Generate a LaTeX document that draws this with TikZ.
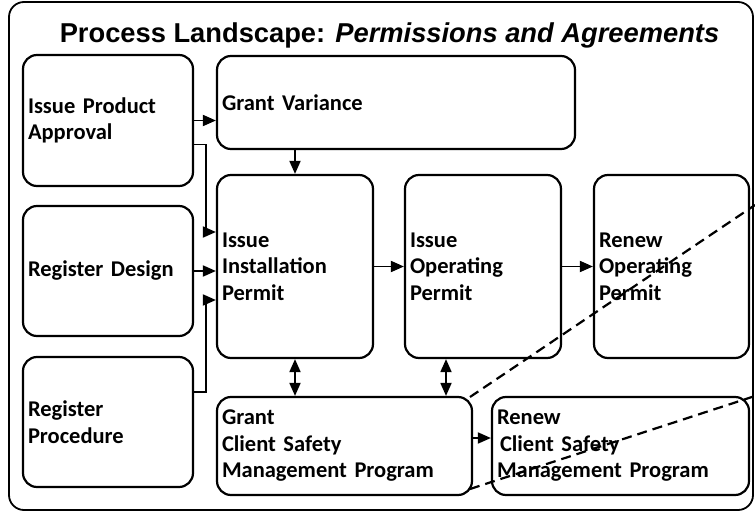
\documentclass[tikz,border=0pt]{standalone}
\usepackage{fontspec}
\setmainfont{Carlito}[WordSpace=0.8]
\newfontfamily\titlefont{Liberation Sans}
\usetikzlibrary{arrows.meta}
\definecolor{edgc}{HTML}{000000}

\begin{document}
\begin{tikzpicture}[
  x=1pt, y=-1pt,
  box/.style={draw=edgc, line width=2.2pt, rounded corners=14pt, align=left,
              inner xsep=5pt, inner ysep=0pt, font=\fontsize{22.5}{26.5}\selectfont\bfseries},
  flow/.style={-{Triangle[length=13pt, width=11pt]}, line width=1.8pt, draw=edgc},
  both/.style={{Triangle[length=13pt, width=11pt]}-{Triangle[length=13pt, width=11pt]}, line width=1.8pt, draw=edgc},
  cut/.style={line width=2.2pt, draw=edgc, dash pattern=on 10pt off 6pt}]
\useasboundingbox (0,0) rectangle (755,511);
\draw[line width=1.8pt, rounded corners=15pt] (9,2) rectangle (753,510);
\node[anchor=base, font=\titlefont\fontsize{27.3}{30}\selectfont\bfseries] (title) at (389.5,43)
  {Process Landscape: \textit{Permissions and Agreements}};
\node[box, minimum width=170pt, minimum height=131pt, text width=160pt] (IPA) at (108,120.5) {Issue Product\\Approval};
\node[box, minimum width=170pt, minimum height=130pt, text width=160pt] (RD)  at (108,271)   {Register Design};
\node[box, minimum width=170pt, minimum height=130pt, text width=160pt] (RP)  at (108,422)   {Register\\Procedure};
\node[box, minimum width=358pt, minimum height=93pt,  text width=348pt] (GV)  at (396,102.5) {Grant Variance};
\node[box, minimum width=156pt, minimum height=183pt, text width=146pt] (IIP) at (295,266.5) {Issue\\Installation\\Permit};
\node[box, minimum width=156pt, minimum height=183pt, text width=146pt] (IOP) at (483,266.5) {Issue\\Operating\\Permit};
\node[box, minimum width=155pt, minimum height=183pt, text width=145pt] (ROP) at (671.5,266.5) {Renew\\Operating\\Permit};
\node[box, minimum width=255pt, minimum height=98pt,  text width=245pt] (GC)  at (344.5,446) {Grant\\Client Safety\\Management Program};
\node[box, minimum width=257pt, minimum height=98pt,  text width=247pt] (RC)  at (620.5,446) {Renew\\\hspace{3pt}Client Safety\\Management Program};
\draw[flow] (IPA.east) -- (IPA.east -| GV.west);
\draw[flow] ([yshift=-24pt]IPA.east) -- ++(12,0) |- ([yshift=34.5pt]IIP.west);
\draw[flow] (RD.east) -- (RD.east -| IIP.west);
\draw[flow] ([yshift=30pt]RP.east) -- ++(12,0) |- ([yshift=-33.5pt]IIP.west);
\draw[flow] (GV.south -| IIP.north) -- (IIP.north);
\draw[flow] (IIP.east) -- (IOP.west);
\draw[flow] (IOP.east) -- (ROP.west);
\draw[both] (IIP.south) -- (IIP.south |- GC.north);
\draw[both] ([xshift=-37pt]IOP.south) -- ([xshift=-37pt]IOP.south |- GC.north);
\draw[flow] ([yshift=8pt]GC.east) -- ([yshift=8pt]GC.east -| RC.west);
\coordinate (c1a) at (470,397);
\coordinate (c1b) at (755,205);
\coordinate (c2a) at (470,489);
\coordinate (c2b) at (755,396);
\draw[cut] (c1a) -- (c1b);
\draw[cut] (c2a) -- (c2b);
\end{tikzpicture}
\end{document}
